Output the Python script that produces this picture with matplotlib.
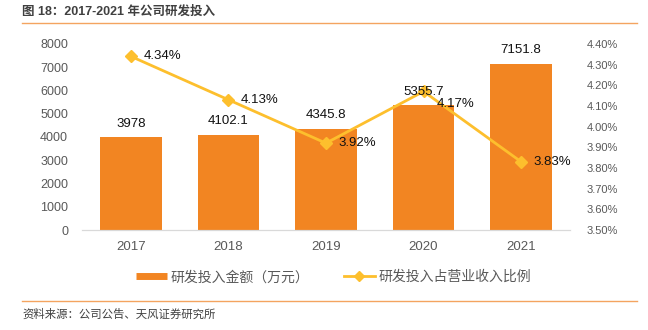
import matplotlib.pyplot as plt
from matplotlib.lines import Line2D

plt.rcParams['font.family'] = ['Liberation Sans', 'Noto Sans CJK SC', 'DejaVu Sans']

years = ['2017', '2018', '2019', '2020', '2021']
rd_spend = [3978, 4102.1, 4345.8, 5355.7, 7151.8]
rd_ratio = [4.34, 4.13, 3.92, 4.17, 3.83]
bar_labels = ['3978', '4102.1', '4345.8', '5355.7', '7151.8']
# vertical nudge for the percentage labels (in % units)
ratio_label_dy = [0, 0, 0, -0.06, 0]

BAR = '#F28522'
LINE = '#FDBF2D'
GREY = '#595959'

fig = plt.figure(figsize=(6.48, 3.30), dpi=100)
ax = fig.add_axes([0.1265, 0.303, 0.753, 0.564])
ax2 = ax.twinx()

x = range(len(years))
ax.bar(x, rd_spend, width=0.63, color=BAR, zorder=2)

ax2.plot(x, rd_ratio, color=LINE, lw=2, marker='D', ms=6, zorder=3)
# value labels live on ax2 so they sit above the line
for i, v in enumerate(rd_spend):
    ax2.text(i, v + 330, bar_labels[i], ha='center', va='bottom', fontsize=9.5,
             color='#111111', transform=ax.transData, zorder=5)
for i, v in enumerate(rd_ratio):
    ax2.text(i + 0.13, v + ratio_label_dy[i], f'{v:.2f}%', ha='left', va='center',
             fontsize=9.5, color='#111111', zorder=5)

ax.set_xlim(-0.5, 4.5)
ax.set_ylim(0, 8000)
ax.set_yticks(range(0, 8001, 1000))
ax2.set_ylim(3.5, 4.4)
ax2.set_yticks([3.5 + 0.1 * k for k in range(10)])
ax2.set_yticklabels([f'{3.5 + 0.1 * k:.2f}%' for k in range(10)])

ax.set_xticks(list(x))
ax.set_xticklabels(years)
for a in (ax, ax2):
    for s in ('top', 'left', 'right'):
        a.spines[s].set_visible(False)
    a.spines['bottom'].set_color('#D9D9D9')
    a.tick_params(length=0, colors=GREY, labelsize=9)
ax.tick_params(axis='x', pad=8, labelsize=9.5)
ax.tick_params(axis='y', pad=10)
ax2.tick_params(axis='y', pad=12, labelsize=8)

handles = [Line2D([], [], color=BAR, lw=5, solid_capstyle='butt'),
           Line2D([], [], color=LINE, lw=2, marker='D', ms=5)]
fig.legend(handles, ['研发投入金额（万元）', '研发投入占营业收入比例'],
           loc='center', bbox_to_anchor=(0.515, 0.16), ncol=2, frameon=False,
           fontsize=10, labelcolor=GREY, handlelength=2.2, handletextpad=0.3,
           columnspacing=2.5)

fig.text(0.034, 0.965, '图 18：2017-2021 年公司研发投入', fontsize=9, fontweight='bold',
         color='#404040', va='center')
fig.add_artist(Line2D([0.034, 0.983], [0.93, 0.93], color='#F4A460', lw=1))
fig.add_artist(Line2D([0.034, 0.983], [0.088, 0.088], color='#F4A460', lw=1))
fig.text(0.034, 0.048, '资料来源：公司公告、天风证券研究所', fontsize=8.2, color='#404040', va='center')

fig.savefig('out.png', dpi=100)
